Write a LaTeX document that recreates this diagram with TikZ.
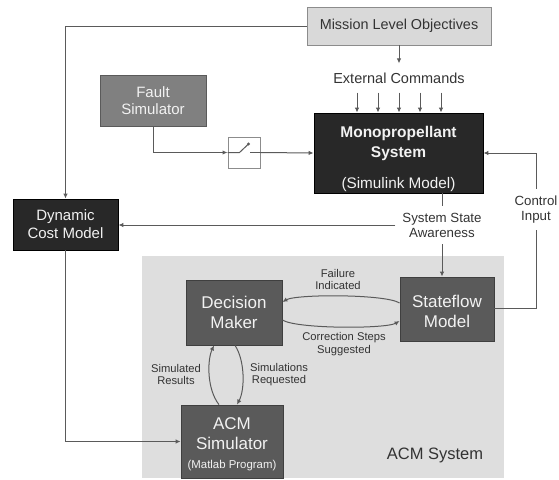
\documentclass[tikz,border=0pt]{standalone}
\usepackage{fontspec}
\setmainfont{Liberation Sans}
\usetikzlibrary{arrows.meta}
\definecolor{mlofill}{HTML}{D9D9D9}
\definecolor{mloline}{HTML}{8C8C8C}
\definecolor{darkbox}{HTML}{282828}
\definecolor{faultc}{HTML}{808080}
\definecolor{midbox}{HTML}{5A5A5A}
\definecolor{bgc}{HTML}{DEDEDE}
\definecolor{linec}{HTML}{5A5A5A}
\definecolor{labc}{HTML}{333333}
\definecolor{boxtext}{HTML}{F2F2F2}
\newcommand\fsz[2]{\fontsize{#1}{#2}\selectfont}
\tikzset{
  blk/.style={rectangle, draw=#1, line width=0.8pt, text=boxtext, align=center, inner sep=0pt},
  conn/.style={draw=linec, line width=1pt},
  arr/.style={conn, -{Latex[length=5pt,width=4.5pt]}},
  lbl/.style={text=labc, align=center, inner sep=0pt},
  btxt/.style={text=boxtext, align=center, inner sep=0pt},
}
\begin{document}
\begin{tikzpicture}[x=1pt,y=-1pt]
\useasboundingbox (0,0) rectangle (559,479);
% ACM system background
\node[rectangle, fill=bgc, minimum width=362pt, minimum height=222pt, inner sep=0pt] (acmsys) at (323,367) {};
\node[lbl, font=\fsz{16.5}{19}] (acmsyslbl) at (435,455) {ACM System};
% boxes
\node[blk=mloline, fill=mlofill, text=labc, minimum width=184pt, minimum height=38pt, font=\fsz{14.4}{17}] (mlo) at (399,26) {Mission Level Objectives};
\node[blk=black, fill=darkbox, minimum width=169pt, minimum height=80pt] (mono) at (398.5,153) {};
\node[btxt, font=\fsz{15.5}{20}\bfseries] (monotext) at (398.5,158.5)
  {Monopropellant\\System\\[11pt]{\fsz{15.3}{18}\mdseries (Simulink Model)}};
\node[blk=faultc!70!black, fill=faultc, minimum width=106pt, minimum height=51pt, font=\fsz{15}{17}] (fault) at (153,100.5) {Fault\\Simulator};
\node[rectangle, draw=mloline, fill=white, line width=1pt, minimum width=32pt, minimum height=31pt, inner sep=0pt] (sw) at (244,152.5) {};
\node[blk=black, fill=darkbox, minimum width=105pt, minimum height=51pt, font=\fsz{15}{18}] (dcm) at (65.5,224.5) {Dynamic\\Cost Model};
\node[blk=midbox!70!black, fill=midbox, minimum width=96pt, minimum height=65pt, font=\fsz{17}{20}] (dm) at (234,312.5) {Decision\\Maker};
\node[blk=midbox!70!black, fill=midbox, minimum width=94pt, minimum height=64pt] (sf) at (447,309) {};
\node[btxt, font=\fsz{17}{20}] (sftext) at (447,311) {Stateflow\\Model};
\node[blk=midbox!70!black, fill=midbox, minimum width=102pt, minimum height=73pt] (acm) at (232,441.5) {};
\node[btxt, font=\fsz{17}{20}] (acmtext) at (232,444.5)
  {ACM\\Simulator\\[-1pt]{\fsz{11.4}{13}(Matlab Program)}};
% labels
\node[lbl, font=\fsz{14.5}{17}, inner ysep=9pt] (ext) at (399,78) {External Commands};
\node[lbl, font=\fsz{13.3}{15}, inner sep=7pt] (ssa) at (442,225) {System State\\Awareness};
\node[lbl, font=\fsz{13.3}{15}, inner sep=7pt] (ci) at (536,209.5) {Control\\Input};
\node[lbl, font=\fsz{11.2}{12.5}] (fi) at (338,279.5) {Failure\\Indicated};
\node[lbl, font=\fsz{11.2}{13}] (css) at (344,344) {Correction Steps\\Suggested};
\node[lbl, font=\fsz{11.2}{12.5}] (simres) at (176,374.5) {Simulated\\Results};
\node[lbl, font=\fsz{11.2}{12.5}] (simreq) at (279,374.5) {Simulations\\Requested};
% switch symbol
\draw[conn] (sw.west) -- ++(12,0) -- ++(9,-8.5) coordinate (swtip);
\fill[linec] (swtip) circle (1.6pt);
\draw[conn] (sw.east) -- ++(-11,0);
% connectors
\draw[arr] (mlo.south) -- (ext.north);
\foreach \dx in {-42,-21,0,21,42}
  \draw[arr] ([xshift=\dx pt]ext.south) -- ([xshift=\dx pt]ext.south |- mono.north);
\draw[arr] (mlo.west) -| (dcm.north);
\draw[arr] (fault.south) |- (sw.west);
\draw[arr] (sw.east) -- (mono.west);
\draw[conn] (ssa.north |- mono.south) -- (ssa.north);
\draw[arr] (ssa.west) -- (ssa.west -| dcm.east);
\draw[arr] (ssa.south) -- (ssa.south |- sf.north);
\draw[conn] ([yshift=1pt]sf.east) -| (ci.south);
\draw[arr] (ci.north) |- (mono.east);
\draw[arr] (dcm.south) |- (acm.west);
\draw[arr] ([yshift=6pt]sf.west) .. controls +(-14,-9) and +(14,-8) .. ([yshift=10.5pt]dm.east);
\draw[arr] ([yshift=-7.5pt]dm.east) .. controls +(14,9) and +(-14,8) .. ([yshift=-12pt]sf.west);
\draw[arr] ([xshift=-13pt]acm.north) .. controls +(-12,-15) and +(-7,15) .. ([xshift=-20pt]dm.south);
\draw[arr] ([xshift=1pt]dm.south) .. controls +(10,15) and +(8,-15) .. ([xshift=5pt]acm.north);
\end{tikzpicture}
\end{document}
